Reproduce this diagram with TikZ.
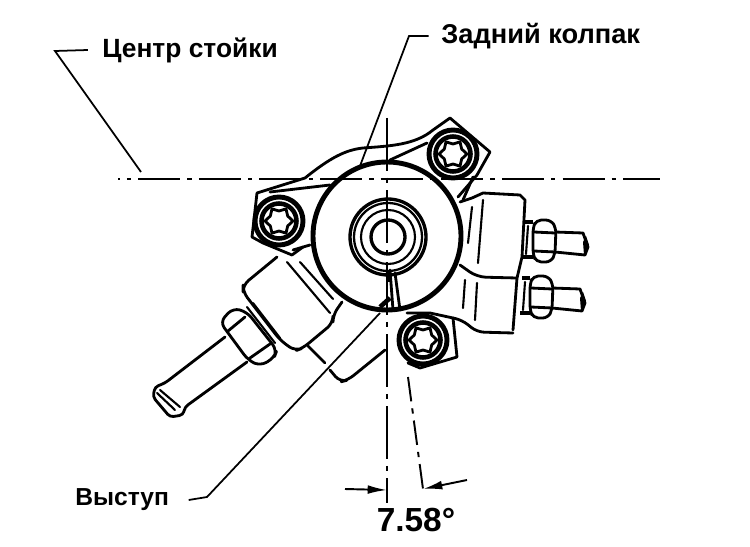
\documentclass[tikz,border=0pt]{standalone}
\usepackage{fontspec}
\setmainfont{Liberation Sans}
\usetikzlibrary{arrows.meta}
\tikzset{
    part/.style={line width=1.6pt,line join=round,line cap=round},
    heavy/.style={line width=2.6pt,line join=round},
    thin part/.style={line width=1.2pt,line cap=round},
    leader/.style={line width=1pt},
    axisln/.style={line width=1.1pt,dash pattern=on 24pt off 4pt on 2.5pt off 4pt,dash phase=23pt},
    label/.style={font=\bfseries\fontsize{15pt}{17pt}\selectfont,inner sep=0pt,anchor=west},
    dimtip/.style={-{Latex[length=11pt,width=5pt]},line width=1.1pt}
}
% one bolt head with its washer
\newcommand{\boltat}[2]{
    \begin{scope}[shift={(#1,#2)}]
        \draw[line width=2.8pt,fill=white] (0,0) circle (24);
        \draw[line width=2.6pt] (0,0) circle (17.5);
        \draw[part,fill=white] (0:14) \foreach \a in {30,60,...,330} {
            -- ({\a}:{mod(\a,60)==0 ? 14 : 10})} -- cycle;
    \end{scope}
}
% nut and stud on the right hand block
\newcommand{\studat}[2]{
    \begin{scope}[shift={(#1,#2)}]
        \draw[part] (555,232) -- (583,233) -- (588,247) -- (585,255) -- (555,252);
        \fill (589,245) -- (584,255) -- (583,242) -- (586,236) -- cycle;
        \draw[part,fill=white,rounded corners=3] (536,220) -- (551,220) -- (556,228) -- (555,254) -- (551,262)
            -- (536,262) -- (533,254) -- (533,228) -- cycle;
        \draw[part] (534,232) -- (555,233) (534,251) -- (555,252);
        \draw[heavy] (525,222) -- (533,222) (523,257) -- (533,257);
        \draw[thin part] (528,226) -- (526,254);
    \end{scope}
}

\begin{document}
\begin{tikzpicture}[x=0.02cm,y=-0.02cm]
    \useasboundingbox (0,0) rectangle (750,547);

    % hose side, lower left
    \draw[part,rounded corners=2] (225,337) -- (165,383) -- (155,387) -- (153,397) -- (170,417) -- (183,415)
        -- (185,407) -- (247,362);
    \draw[thin part] (160,390) -- (180,407) (157,393) -- (175,410);
    \draw[part,fill=white,rounded corners=4] (220,322) -- (233,308) -- (247,312) -- (277,350) -- (274,358)
        -- (260,366) -- (248,360) -- cycle;
    \draw[part] (228,331) -- (245,317) (250,358) -- (270,344);
    \draw[thin part] (247,307) -- (275,343) (253,303) -- (280,338);
    \draw[part,rounded corners=4] (277,257) -- (243,285) -- (243,292) -- (280,340) -- (295,351) -- (303,348)
        -- (333,323) -- (333,315) -- (342,302);
    \draw[thin part] (287,262) -- (330,313) (300,262) -- (333,299);
    \draw[part] (308,346) -- (325,363);
    \draw[part,rounded corners=4] (330,370) -- (340,382) -- (348,380) -- (385,350);

    % right hand block
    \draw[part] (460,202) -- (472,198) -- (483,193) -- (520,195) -- (525,200) -- (522,257)
        -- (517,278) -- (513,330);
    \draw[part,rounded corners=5] (460,265) -- (477,277) -- (517,278);
    \draw[part,rounded corners=4] (453,318) -- (462,320) -- (477,332) -- (513,333);
    \draw[thin part] (483,200) -- (478,263) (472,207) -- (468,243)
        (465,280) -- (463,308) (477,283) -- (475,320);
    \studat{0}{0}
    \studat{-3}{56}

    % flange
    \draw[part,fill=white] (257,193) -- (252,237) -- (263,243) -- (292,255) -- (303,247);
    \draw[part] (257,193) -- (305,178) .. controls (330,158) and (345,150) .. (363,148)
        .. controls (390,146) and (415,145) .. (433,130) -- (450,118) -- (490,152)
        -- (477,175) -- (458,197);
    \draw[part] (270,192) -- (330,185) (390,160) -- (427,143);
    \draw[part] (473,177) -- (463,200);
    \draw[part] (293,250) -- (310,245);
    \draw[part] (407,313) -- (430,313) -- (453,318) -- (457,357) -- (420,368) -- (408,363);

    % cover with its rings
    \draw[line width=2.8pt] (387,236) circle (74);
    \foreach \r/\w in {38/1.9pt,34/1.3pt,27/1.2pt,17/1.9pt} {
        \draw[line width=\w] (388,237) circle (\r);
    }
    \draw[part] (390,270) -- (393,310) (395,273) -- (400,310);
    \draw[heavy] (380,307) -- (390,298);
    \draw[heavy] (388,270) -- (388,282);

    \boltat{279}{221}
    \boltat{453}{154}
    \boltat{423}{340}

    % centre lines
    \draw[axisln] (118,179) -- (660,179);
    \draw[line width=1.1pt,dash pattern=on 30pt off 4pt on 3pt off 4pt] (387,118) -- (387,503);
    \draw[line width=1.1pt,dash pattern=on 14pt off 4pt on 3pt off 4pt] (408,377) -- (423,489);

    % labels
    \node[label] (centr) at (102,50) {Центр стойки};
    \node[label,font=\bfseries\fontsize{15.5pt}{17pt}\selectfont] (zadnij) at (441,36) {Задний колпак};
    \node[label,font=\bfseries\fontsize{14pt}{16pt}\selectfont] (vystup) at (75,500) {Выступ};
    \node[inner sep=0pt,font=\bfseries\fontsize{19pt}{21pt}\selectfont] (angle) at (416,520) {7.58°};

    \coordinate (centrbend) at (55,51);
    \coordinate (centrend) at (141,172);
    \coordinate (zadnijbend) at (409,36);
    \coordinate (zadnijend) at (360,166);
    \coordinate (vystupbend) at (207,497);
    \coordinate (vystupend) at (380,313);
    \coordinate (dimleft) at (345,489);
    \coordinate (dimltip) at (387,490);
    \coordinate (dimright) at (467,480);
    \coordinate (dimrtip) at (423,489);

    \draw[leader] ([xshift=-8pt]centr.west) -- (centrbend) -- (centrend);
    \draw[leader] ([xshift=-7pt]zadnij.west) -- (zadnijbend) -- (zadnijend);
    \draw[leader] ([xshift=11pt]vystup.east) -- (vystupbend) -- (vystupend);
    \draw[dimtip] (dimleft) -- (dimltip);
    \draw[dimtip] (dimright) -- (dimrtip);
\end{tikzpicture}
\end{document}
